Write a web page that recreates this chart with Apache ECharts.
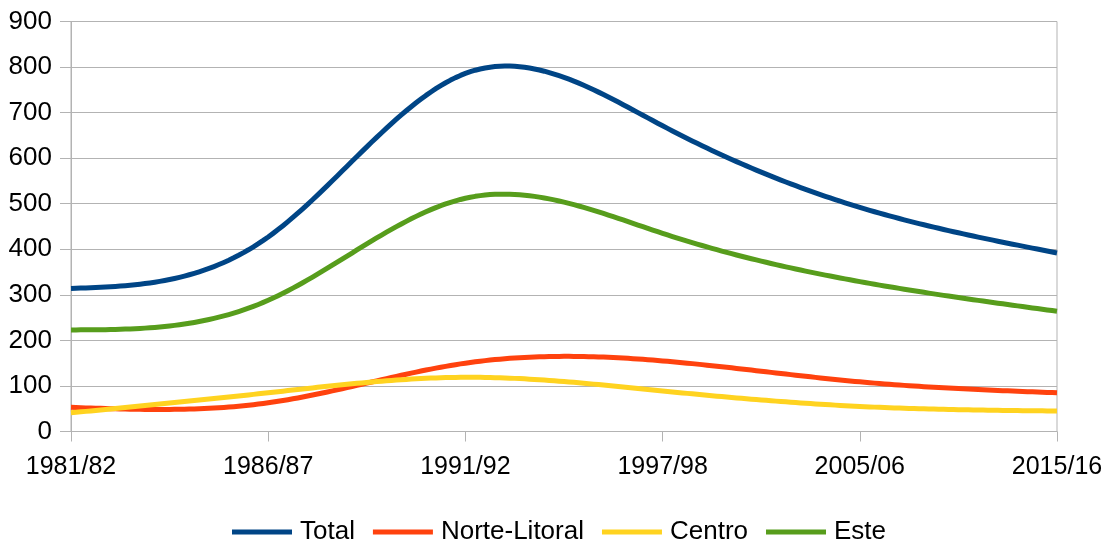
<!DOCTYPE html>
<html>
<head>
<meta charset="utf-8">
<script src="https://cdn.jsdelivr.net/npm/echarts@6/dist/echarts.min.js"></script>
<style>
    html, body { margin: 0; padding: 0; background: #fff; }
    #main { width: 1106px; height: 540px; }
</style>
</head>
<body>
<div id="main"></div>
<script>
// categorias do eixo x
var categories = ['1981/82', '1986/87', '1991/92', '1997/98', '2005/06', '2015/16'];

// valores
var total = [314, 427, 786, 671, 492, 392];
var norteLitoral = [53, 63, 150, 155, 109, 85];
var centro = [41, 85, 119, 89, 55, 45];
var este = [223, 288, 512, 435, 329, 264];

var yTicks = { min: 0, max: 900, interval: 100 };

var gridColor = '#b3b3b3';
var font = 'Liberation Sans';

// segundas derivadas de um spline cúbico natural (passo uniforme = 1)
function splineM(y) {
    var n = y.length;
    var M = new Array(n).fill(0);
    if (n < 3) return M;
    var c = [], d = [];
    for (var i = 1; i < n - 1; i++) {
        var rhs = 6 * (y[i + 1] - 2 * y[i] + y[i - 1]);
        var den = 4 - (i > 1 ? c[i - 1] : 0);
        c[i] = 1 / den;
        d[i] = (rhs - (i > 1 ? d[i - 1] : 0)) / den;
    }
    for (var j = n - 2; j >= 1; j--) {
        M[j] = d[j] - c[j] * (j < n - 2 ? M[j + 1] : 0);
    }
    return M;
}

// desenha a curva suave a partir dos pontos convertidos pelos eixos
function splineSerie(name, values, color) {
    return {
        name: name,
        type: 'custom',
        itemStyle: { color: color },
        data: values.map(function (v, i) { return [i, v]; }),
        renderItem: function (params, api) {
            if (params.dataIndex !== 0) return null;
            var pts = values.map(function (v, k) { return api.coord([k, v]); });
            var ys = pts.map(function (p) { return p[1]; });
            var M = splineM(ys);
            var line = [];
            for (var i = 0; i < pts.length - 1; i++) {
                var steps = 40;
                for (var s = (i === 0 ? 0 : 1); s <= steps; s++) {
                    var t = s / steps, u = 1 - t;
                    var x = pts[i][0] + t * (pts[i + 1][0] - pts[i][0]);
                    var y = u * ys[i] + t * ys[i + 1]
                        + ((u * u * u - u) * M[i] + (t * t * t - t) * M[i + 1]) / 6;
                    line.push([x, y]);
                }
            }
            return {
                type: 'polyline',
                shape: { points: line },
                style: { stroke: color, lineWidth: 5, fill: null, lineJoin: 'round' }
            };
        }
    };
}

var myChart = echarts.init(document.getElementById('main'));
var option = {
    animation: false,
    textStyle: { fontFamily: font },
    grid: {
        left: 71, right: 49, top: 21.5, bottom: 108.5,
        show: true, borderColor: gridColor, borderWidth: 1
    },
    legend: {
        top: 514,
        left: 227,
        icon: 'rect',
        itemWidth: 60,
        itemHeight: 5,
        itemGap: 18,
        textStyle: { fontSize: 26, color: '#000', fontFamily: font, padding: [0, 0, 0, 3] },
        data: ['Total', 'Norte-Litoral', 'Centro', 'Este']
    },
    xAxis: {
        type: 'category',
        data: categories,
        boundaryGap: false,
        axisLine: { lineStyle: { color: gridColor, width: 1 } },
        axisTick: { show: true, length: 10, lineStyle: { color: gridColor } },
        axisLabel: { fontSize: 25, color: '#000', margin: 23, fontFamily: font },
        splitLine: { show: false }
    },
    yAxis: {
        type: 'value',
        min: yTicks.min,
        max: yTicks.max,
        interval: yTicks.interval,
        axisLine: { show: true, lineStyle: { color: gridColor, width: 1 } },
        axisTick: { show: true, length: 11, lineStyle: { color: gridColor } },
        axisLabel: { fontSize: 26, color: '#000', margin: 19, fontFamily: font },
        splitLine: { show: true, lineStyle: { color: gridColor, width: 1 } }
    },
    series: [
        splineSerie('Total', total, '#004586'),
        splineSerie('Norte-Litoral', norteLitoral, '#ff420e'),
        splineSerie('Centro', centro, '#ffd320'),
        splineSerie('Este', este, '#579d1c')
    ]
};
myChart.setOption(option);
</script>
</body>
</html>
